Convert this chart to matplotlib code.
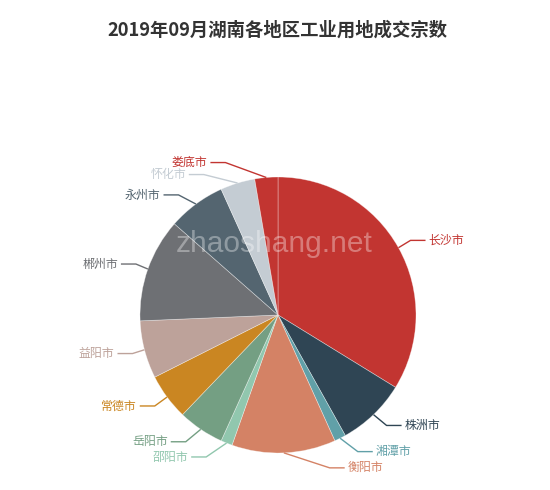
import numpy as np
import matplotlib
matplotlib.use('Agg')
import matplotlib.pyplot as plt

plt.rcParams['font.family'] = ['Noto Sans CJK SC', 'DejaVu Sans']

title = '2019年09月湖南各地区工业用地成交宗数'
cities = ['长沙市', '株洲市', '湘潭市', '衡阳市', '邵阳市', '岳阳市',
          '常德市', '益阳市', '郴州市', '永州市', '怀化市', '娄底市']
counts = [25, 6, 1, 9, 1, 4, 4, 5, 9, 5, 3, 2]
colors = ['#c23531', '#2f4554', '#61a0a8', '#d48265', '#91c7ae', '#749f83',
          '#ca8622', '#bda29a', '#6e7074', '#546570', '#c4ccd3', '#c23531']

W, H = 550, 490
cx, cy, r = 278, 315, 138
len1, len2 = 15, 15
label_h = 12

fig = plt.figure(figsize=(5.5, 4.9), dpi=100)
ax = fig.add_axes([0, 0, 1, 1])

# y axis is flipped below, so counterclockwise from -90 reads clockwise from the top
wedges, _ = ax.pie(counts, colors=colors, startangle=-90, counterclock=True,
                   center=(cx, cy), radius=r,
                   wedgeprops={'linewidth': 0.5, 'edgecolor': (1, 1, 1, 0.45)})
ax.set_xlim(0, W)
ax.set_ylim(H, 0)
ax.set_aspect('equal')
ax.axis('off')

# label layout, echarts style
items = []
for w, name, col in zip(wedges, cities, colors):
    m = np.deg2rad((w.theta1 + w.theta2) / 2)
    ex, ey = cx + r * np.cos(m), cy + r * np.sin(m)
    lx, ly = cx + (r + len1) * np.cos(m), cy + (r + len1) * np.sin(m)
    items.append({'name': name, 'color': col, 'ex': ex, 'ey': ey, 'x': lx, 'y': ly})


def adjust(lst):
    lst.sort(key=lambda d: d['y'])
    n = len(lst)

    def shift_up(end, delta):
        for j in range(end, -1, -1):
            lst[j]['y'] -= delta
            if j > 0 and lst[j]['y'] > lst[j - 1]['y'] + label_h:
                break

    def shift_down(start, end, delta):
        for j in range(start, end):
            lst[j]['y'] += delta
            if j > start and j + 1 < end and lst[j + 1]['y'] > lst[j]['y'] + label_h:
                shift_up(j, delta / 2)
                return
        shift_up(end - 1, delta / 2)

    last = 0
    for i in range(n):
        delta = lst[i]['y'] - last
        if delta < 0:
            shift_down(i, n, -delta)
        last = lst[i]['y'] + label_h


left = [d for d in items if d['x'] < cx]
right = [d for d in items if d['x'] >= cx]
adjust(left)
adjust(right)

for side, sgn in ((left, -1), (right, 1)):
    for d in side:
        dy = abs(d['y'] - cy)
        if dy < r + len1:
            dx = np.sqrt((r + len1 + len2) ** 2 - dy ** 2)
        else:
            dx = abs(d['x'] - cx)
        tx = cx + sgn * dx
        end = tx - sgn * 3
        elbow = end - sgn * len2
        ax.plot([d['ex'], elbow, end], [d['ey'], d['y'], d['y']],
                color=d['color'], lw=1, solid_capstyle='butt')
        ax.text(tx, d['y'], d['name'], color=d['color'], fontsize=8.6,
                ha='left' if sgn > 0 else 'right', va='center')

ax.text(274, 251.7, 'zhaoshang.net', fontsize=21.5, color='white', alpha=0.35,
        family='Liberation Sans', ha='center', va='baseline')

ax.text(277, 30, title, fontsize=13.2, fontweight='bold', color='#333333',
        ha='center', va='center')

fig.savefig('out.png', dpi=100)
